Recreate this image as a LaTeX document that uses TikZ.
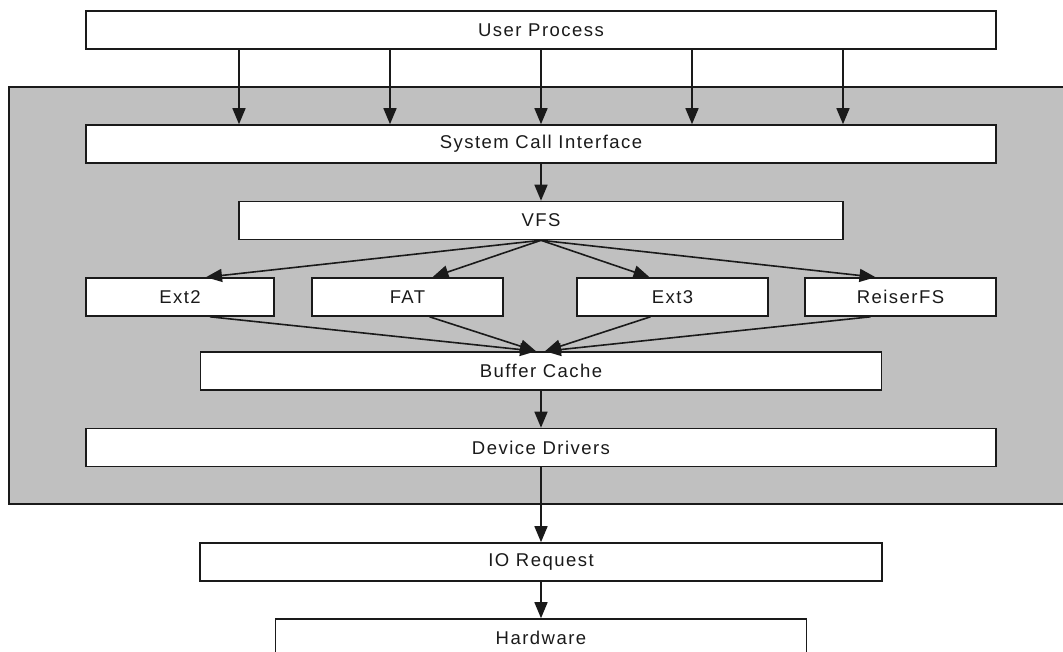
\documentclass[tikz,border=0pt]{standalone}
\usepackage{fontspec}
\setmainfont{Liberation Sans}[LetterSpace=8]
\usetikzlibrary{arrows.meta}
\definecolor{kernelgray}{HTML}{C0C0C0}
\definecolor{ink}{HTML}{1A1A1A}
\begin{document}
\begin{tikzpicture}[x=1pt,y=-1pt,
  layer/.style={draw=ink, line width=1.6pt, fill=white, minimum height=38pt,
    inner sep=0pt, font=\fontsize{18.5}{20}\selectfont, text=ink},
  flow/.style={draw=ink, line width=1.6pt, -{Triangle[length=16pt,width=13pt]}}]
\useasboundingbox (0,0) rectangle (1063,652);
\clip (0,0) rectangle (1063,652);

% kernel space region
\fill[kernelgray] (9,87) rectangle (1075,504);
\draw[ink, line width=1.6pt] (1075,87) -- (9,87) -- (9,504) -- (1075,504);

% layers
\node[layer, minimum width=910pt] (up)  at (541,30)    {User Process};
\node[layer, minimum width=910pt] (sci) at (541,144)   {System Call Interface};
\node[layer, minimum width=604pt] (vfs) at (541,220.5) {VFS};
\node[layer, minimum width=188pt] (ext2)  at (180,297)   {Ext2};
\node[layer, minimum width=191pt] (fat)   at (407.5,297) {FAT};
\node[layer, minimum width=191pt] (ext3)  at (672.5,297) {Ext3};
\node[layer, minimum width=191pt] (rfs)   at (900.5,297) {ReiserFS};
\node[layer, minimum width=681pt] (bc)  at (541,371)   {Buffer Cache};
\node[layer, minimum width=910pt] (dd)  at (541,447.5) {Device Drivers};
\node[layer, minimum width=682pt] (io)  at (541,562)   {IO Request};
\node[layer, minimum width=531pt] (hw)  at (541,638)   {Hardware};

% system calls
\foreach \dx in {-302,-151,0,151,302}
  \draw[flow] ([xshift=\dx pt]up.south) -- ([xshift=\dx pt]sci.north);
\draw[flow] (sci.south) -- (vfs.north);

% VFS to file systems
\draw[flow] (vfs.south) -- ([xshift=26pt]ext2.north);
\draw[flow] (vfs.south) -- ([xshift=25pt]fat.north);
\draw[flow] (vfs.south) -- ([xshift=-23pt]ext3.north);
\draw[flow] (vfs.south) -- ([xshift=-25pt]rfs.north);

% file systems to buffer cache
\draw[flow] ([xshift=30pt]ext2.south) -- ([xshift=-5pt]bc.north);
\draw[flow] ([xshift=22pt]fat.south)  -- ([xshift=-5pt]bc.north);
\draw[flow] ([xshift=-22pt]ext3.south) -- ([xshift=4pt]bc.north);
\draw[flow] ([xshift=-30pt]rfs.south)  -- ([xshift=4pt]bc.north);

% down to the hardware
\draw[flow] (bc.south) -- (dd.north);
\draw[flow] (dd.south) -- (io.north);
\draw[flow] (io.south) -- (hw.north);
\end{tikzpicture}
\end{document}
